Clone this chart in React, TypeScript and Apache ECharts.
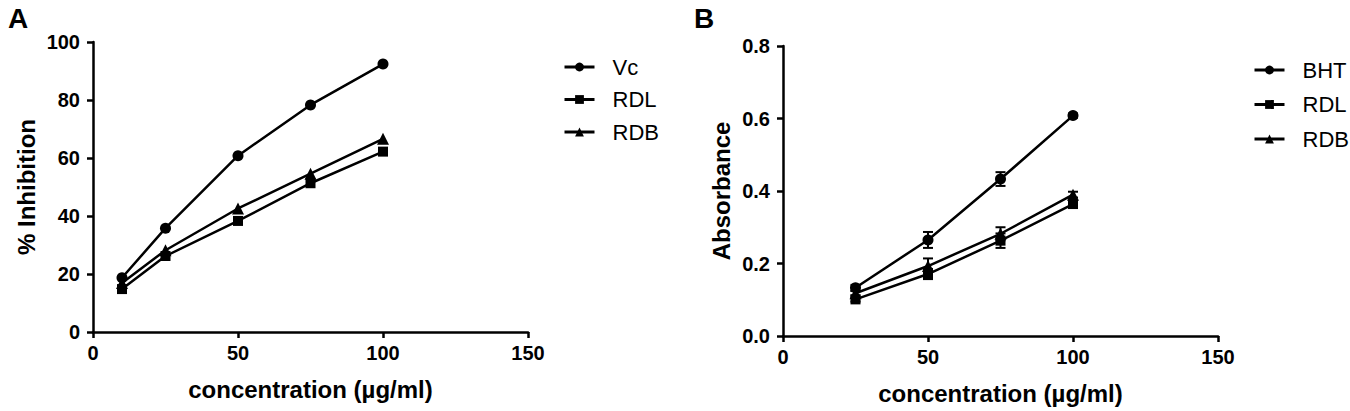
import React, { useEffect, useRef } from "react";
import * as echarts from "echarts";

const xTicksA = [0, 50, 100, 150];
const concA = [10, 25, 50, 75, 100];
const vcA = [18.7, 35.8, 60.8, 78.3, 92.4];
const rdlA = [14.8, 26.2, 38.3, 51.3, 62.2];
const rdbA = [16.9, 28.2, 42.6, 54.6, 66.6];

const concB = [25, 50, 75, 100];
const bhtB = [0.133, 0.265, 0.433, 0.608];
const bhtErr = [0.008, 0.022, 0.019, 0.006];
const rdlB = [0.101, 0.171, 0.263, 0.364];
const rdlErr = [0.006, 0.014, 0.02, 0.008];
const rdbB = [0.118, 0.193, 0.282, 0.39];
const rdbErr = [0.006, 0.021, 0.018, 0.008];

const FONT = 'Arial, "Liberation Sans", Helvetica, sans-serif';

function pairs(xs: number[], ys: number[]) {
  return xs.map((x, i) => [x, ys[i]]);
}

function errData(xs: number[], ys: number[], es: number[]) {
  return xs.map((x, i) => [x, ys[i] - es[i], ys[i] + es[i]]);
}

function errorSeries(name: string, data: number[][]) {
  return {
    type: "custom",
    name,
    xAxisIndex: 1,
    yAxisIndex: 1,
    silent: true,
    z: 1,
    renderItem: (params: any, api: any) => {
      const x = api.value(0);
      const lo = api.coord([x, api.value(1)]);
      const hi = api.coord([x, api.value(2)]);
      const hw = 5;
      const style = { stroke: "#000", lineWidth: 2 };
      return {
        type: "group",
        children: [
          { type: "line", shape: { x1: lo[0], y1: lo[1], x2: hi[0], y2: hi[1] }, style },
          { type: "line", shape: { x1: lo[0] - hw, y1: lo[1], x2: lo[0] + hw, y2: lo[1] }, style },
          { type: "line", shape: { x1: hi[0] - hw, y1: hi[1], x2: hi[0] + hw, y2: hi[1] }, style },
        ],
      };
    },
    encode: { x: 0, y: [1, 2] },
    data,
  };
}

function lineSeries(name: string, data: number[][], symbol: string, size: number, idx: number) {
  return {
    type: "line",
    name,
    xAxisIndex: idx,
    yAxisIndex: idx,
    data,
    symbol,
    symbolSize: size,
    showAllSymbol: true,
    z: 3,
    lineStyle: { color: "#000", width: 2.5 },
    itemStyle: { color: "#000", borderWidth: 0 },
  };
}

function axisCommon() {
  return {
    axisLine: { show: true, onZero: false, lineStyle: { color: "#000", width: 2.5 } },
    axisTick: { show: true, length: 6, lineStyle: { color: "#000", width: 2.5 } },
    splitLine: { show: false },
    axisLabel: { color: "#000", fontSize: 20, fontWeight: "bold", fontFamily: FONT },
    nameTextStyle: { color: "#000", fontSize: 24, fontWeight: "bold", fontFamily: FONT },
  };
}

export default function App() {
  const ref = useRef<HTMLDivElement>(null);

  useEffect(() => {
    if (!ref.current) return;
    const chart = echarts.init(ref.current, undefined, { renderer: "svg" });
    const xAxis = (idx: number) => ({
      ...axisCommon(),
      type: "value",
      gridIndex: idx,
      min: xTicksA[0],
      max: xTicksA[xTicksA.length - 1],
      interval: 50,
      name: "concentration (µg/ml)",
      nameLocation: "middle",
      nameGap: 45,
      axisLabel: { ...axisCommon().axisLabel, margin: 11 },
    });
    const legendText = { fontSize: 22, color: "#000", fontFamily: FONT, lineHeight: 22, padding: [0, 0, 0, 13] };
    chart.setOption({
      animation: false,
      backgroundColor: "#fff",
      textStyle: { fontFamily: FONT },
      grid: [
        { left: 93, top: 42, width: 435, height: 290 },
        { left: 783, top: 46, width: 435, height: 290 },
      ],
      xAxis: [xAxis(0), xAxis(1)],
      yAxis: [
        {
          ...axisCommon(),
          type: "value",
          gridIndex: 0,
          min: 0,
          max: 100,
          interval: 20,
          name: "% Inhibition",
          nameLocation: "middle",
          nameGap: 55,
          axisLabel: { ...axisCommon().axisLabel, margin: 13 },
        },
        {
          ...axisCommon(),
          type: "value",
          gridIndex: 1,
          min: 0,
          max: 0.8,
          interval: 0.2,
          name: "Absorbance",
          nameLocation: "middle",
          nameGap: 50,
          axisLabel: {
            ...axisCommon().axisLabel,
            margin: 13,
            formatter: (v: number) => v.toFixed(1),
          },
        },
      ],
      legend: [
        {
          data: ["Vc", "RDL", "RDB"].map((n) => ({ name: n })),
          orient: "vertical",
          left: 558,
          top: 51,
          itemWidth: 30,
          itemHeight: 11,
          itemGap: 10.5,
          textStyle: legendText,
          lineStyle: { width: 3 },
          selectedMode: false,
        },
        {
          data: ["BHT", "RDL ", "RDB "].map((n) => ({ name: n })),
          orient: "vertical",
          left: 1248,
          top: 54,
          itemWidth: 30,
          itemHeight: 11,
          itemGap: 12.5,
          textStyle: legendText,
          lineStyle: { width: 3 },
          formatter: (n: string) => n.trim(),
          selectedMode: false,
        },
      ],
      graphic: [
        { type: "text", left: 8, top: 4, style: { text: "A", fontSize: 28, fontWeight: "bold", fill: "#000", fontFamily: FONT } },
        { type: "text", left: 694, top: 4, style: { text: "B", fontSize: 28, fontWeight: "bold", fill: "#000", fontFamily: FONT } },
      ],
      series: [
        lineSeries("Vc", pairs(concA, vcA), "circle", 11, 0),
        lineSeries("RDL", pairs(concA, rdlA), "rect", 10, 0),
        lineSeries("RDB", pairs(concA, rdbA), "triangle", 12, 0),
        errorSeries("BHT-err", errData(concB, bhtB, bhtErr)),
        errorSeries("RDL-err", errData(concB, rdlB, rdlErr)),
        errorSeries("RDB-err", errData(concB, rdbB, rdbErr)),
        lineSeries("BHT", pairs(concB, bhtB), "circle", 11, 1),
        lineSeries("RDL ", pairs(concB, rdlB), "rect", 10, 1),
        lineSeries("RDB ", pairs(concB, rdbB), "triangle", 12, 1),
      ],
    });
    return () => chart.dispose();
  }, []);

  return (
    <div
      ref={ref}
      style={{ position: "fixed", left: 0, top: 0, width: 1350, height: 411, background: "#fff" }}
    />
  );
}
